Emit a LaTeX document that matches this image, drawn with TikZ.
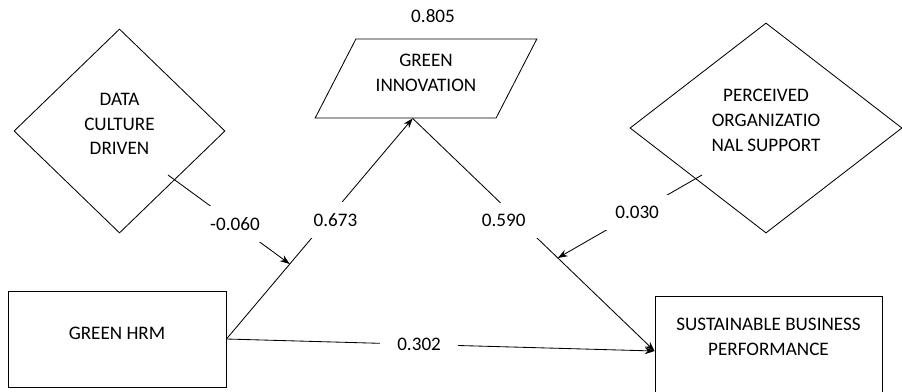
\documentclass[tikz,border=0pt]{standalone}
\usepackage{fontspec}
\setmainfont{Carlito}
\usepackage{tikz}
\usetikzlibrary{shapes.geometric, arrows.meta, positioning, calc}
\tikzset{
  construct/.style={rectangle, draw=black, semithick, align=center},
  moder/.style={diamond, draw=black, semithick, align=center},
  media/.style={trapezium, trapezium left angle=61, trapezium right angle=119, trapezium stretches=true, draw=black, semithick, align=center},
  coef/.style={fill=white, inner xsep=12pt, inner ysep=8pt},
  arrow/.style={-{Stealth[length=7pt, width=5pt]}, semithick},
}

\begin{document}
\begin{tikzpicture}[x=0.025cm, y=-0.025cm, font=\fontsize{13.6}{17.5}\selectfont]
\useasboundingbox (0,0) rectangle (902,391);
\node[construct, minimum width=5.45cm, minimum height=2.4cm, text depth=8.5pt] (hrm) at (117,339) {GREEN HRM};
\node[construct, minimum width=5.675cm, minimum height=2.4cm, text depth=10pt] (sbp) at (768.5,344) {SUSTAINABLE BUSINESS\\PERFORMANCE};
\node[media, minimum width=5.55cm, minimum height=1.975cm, text depth=8pt] (innov) at (426,78.5) {GREEN\\INNOVATION};
\node[moder, minimum width=5.275cm, minimum height=5.1cm, text depth=10pt] (dcd) at (119.5,131) {DATA\\CULTURE\\DRIVEN};
\node[moder, minimum width=6.8cm, minimum height=5.25cm, text depth=11pt] (pos) at (766,128) {PERCEIVED\\ORGANIZATIO\\NAL SUPPORT};
\node[above=11pt of innov, xshift=5pt, inner sep=0pt] (rsq) {0.805};
\coordinate (gitip) at ($(innov.bottom left corner)!0.54!(innov.bottom right corner)$);
\coordinate (sbptip) at ($(sbp.west)+(0,7)$);
\coordinate (dcdtail) at (168,175);
\coordinate (postail) at (702,175);
\coordinate (dcdhit) at ($(hrm.east)!0.34!(gitip)$);
\coordinate (poshit) at ($(gitip)!0.6!(sbptip)$);
\draw[arrow] (hrm.east) -- node[coef, pos=0.54, xshift=6pt] {0.673} (gitip);
\draw[arrow] (gitip) -- node[coef, pos=0.44, xshift=-11pt] {0.590} (sbptip);
\draw[arrow] (hrm.east) -- node[coef, pos=0.45] {0.302} (sbptip);
\draw[arrow] (dcdtail) -- node[coef, pos=0.55] {-0.060} (dcdhit);
\draw[arrow] (postail) -- node[coef, pos=0.45] {0.030} (poshit);
\end{tikzpicture}
\end{document}
